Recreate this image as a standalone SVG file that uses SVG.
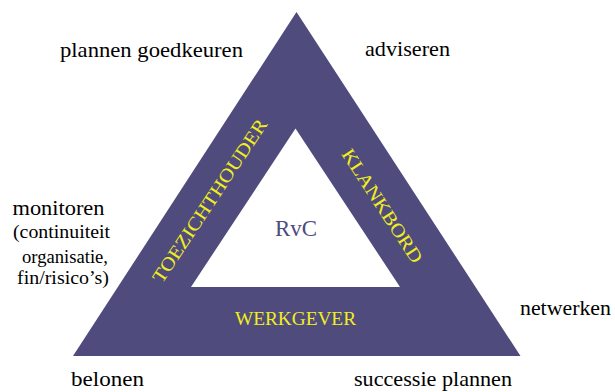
<svg xmlns="http://www.w3.org/2000/svg" width="615" height="392" viewBox="0 0 615 392">
<style>
text{font-family:"Liberation Serif","Times New Roman",serif}
.lbl{fill:#000;font-size:21px}
.sub{fill:#000;font-size:19px;text-anchor:end}
.role{fill:#f2ee1c;font-size:19px;text-anchor:middle}
.core{fill:#4f4b7d;font-size:23px;text-anchor:middle}
</style>
<rect width="615" height="392" fill="#ffffff"/>
<g id="triangle">
<path d="M296.5 12 L520.5 356 L73 356 Z M295.5 128.5 L191 287 L400 287 Z" fill="#4f4b7d" fill-rule="evenodd"/>
</g>
<g id="rvc"><text class="core" x="296" y="236" textLength="42" lengthAdjust="spacingAndGlyphs">RvC</text></g>
<g id="toezichthouder"><text class="role" transform="translate(210,201) rotate(-56.5)" x="0" y="6" textLength="192" lengthAdjust="spacingAndGlyphs">TOEZICHTHOUDER</text></g>
<g id="klankbord"><text class="role" transform="translate(382,206) rotate(57)" x="0" y="6" textLength="132" lengthAdjust="spacingAndGlyphs">KLANKBORD</text></g>
<g id="werkgever"><text class="role" x="295.5" y="325" textLength="121" lengthAdjust="spacingAndGlyphs">WERKGEVER</text></g>
<g id="plannen-goedkeuren"><text class="lbl" x="60" y="57" textLength="183" lengthAdjust="spacingAndGlyphs">plannen goedkeuren</text></g>
<g id="adviseren"><text class="lbl" x="365" y="56" textLength="85" lengthAdjust="spacingAndGlyphs">adviseren</text></g>
<g id="monitoren">
<text class="lbl" x="12.5" y="215" textLength="92" lengthAdjust="spacingAndGlyphs" style="font-size:22px">monitoren</text>
<text class="sub" x="110" y="238" textLength="97" lengthAdjust="spacingAndGlyphs">(continuiteit</text>
<text class="sub" x="108" y="263" textLength="86" lengthAdjust="spacingAndGlyphs">organisatie,</text>
<text class="sub" x="109" y="284" textLength="92" lengthAdjust="spacingAndGlyphs">fin/risico’s)</text>
</g>
<g id="netwerken"><text class="lbl" x="520" y="315" textLength="91" lengthAdjust="spacingAndGlyphs">netwerken</text></g>
<g id="belonen"><text class="lbl" x="71" y="386" textLength="73" lengthAdjust="spacingAndGlyphs">belonen</text></g>
<g id="successie-plannen"><text class="lbl" x="354" y="386" textLength="158" lengthAdjust="spacingAndGlyphs">successie plannen</text></g>
</svg>
